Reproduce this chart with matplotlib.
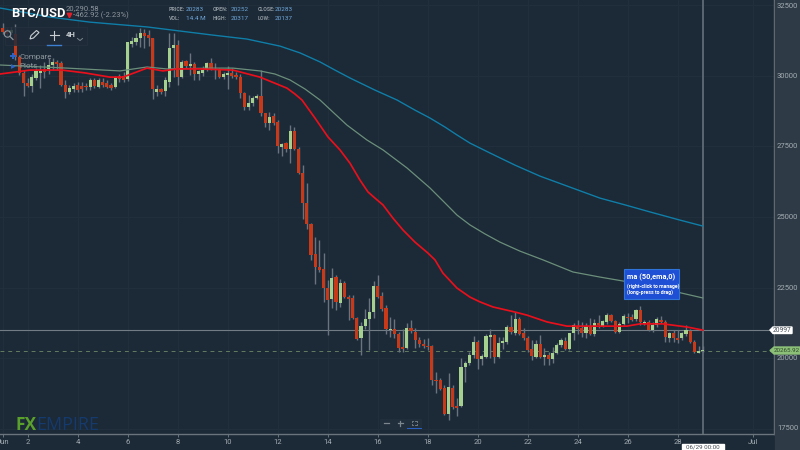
"""BTC/USD 4H candle chart, FX Empire dark style."""
import matplotlib
matplotlib.use("Agg")
import matplotlib.pyplot as plt
from matplotlib.patches import Circle, Polygon, Rectangle
import numpy as np

BG = "#1c2936"
PANEL = "#2e3a45"
GRID = "#222f3c"
AXIS = "#6a747c"
TEXT = "#a3acb3"
UP = "#a5d08e"
DOWN = "#c8391a"
WICK = "#69747e"
EMA_RED = "#e8101c"
MA_GREEN = "#6b8f7b"
MA_BLUE = "#0f7ea8"
VALUE_BLUE = "#6fa8dc"

plt.rcParams["font.family"] = ["Roboto", "DejaVu Sans"]

# 4H candles from Jun 1 00:00
opens = [
    31700, 31600, 31520, 31490, 30670, 30110, 29750, 29650, 29930, 30110,
    30250, 30250, 30390, 30500, 30460, 29680, 29430, 29540, 29680, 29650,
    29650, 29610, 29860, 29610, 29790, 29750, 29680, 29610, 30000, 30000,
    29890, 31130, 31210, 31350, 31520, 31450, 31350, 29430, 29540, 29470,
    29790, 30990, 31100, 29960, 30530, 30350, 30430, 30070, 30110, 30250,
    30460, 30210, 30250, 29960, 30040, 30110, 30040, 29960, 29400, 28900,
    29040, 29220, 29290, 28690, 28330, 28580, 28370, 27480, 27620, 27410,
    28050, 27410, 26560, 25500, 24750, 23690, 23230, 23160, 22480, 22090,
    22870, 21950, 22660, 22160, 22130, 21420, 20710, 21130, 21380, 21630,
    22550, 22200, 21770, 20990, 21030, 20850, 20390, 20350, 21060, 20920,
    20640, 20500, 20430, 20430, 19220, 19220, 18940, 18010, 18940, 18300,
    18300, 19680, 19820, 20110, 20570, 19960, 20040, 20740, 20820, 20040,
    20530, 20570, 21100, 20890, 21380, 20890, 20710, 20320, 20040, 20500,
    20040, 20110, 19960, 20180, 20460, 20600, 20320, 20890, 21100, 21060,
    20890, 21100, 20850, 21240, 21130, 21280, 21520, 21310, 20920, 21210,
    21450, 21450, 21380, 21700, 21210, 21280, 20990, 21170, 21350, 21280,
    20710, 20890, 20710, 20710, 20850, 20960, 20570, 20180, 20250,
]
highs = [
    31880, 31700, 31740, 31840, 30740, 30210, 29930, 30070, 30280, 30390,
    30500, 30640, 30640, 30570, 30530, 29860, 29680, 29750, 29790, 29790,
    29750, 29930, 29930, 29930, 29930, 29860, 29750, 30000, 30070, 30140,
    31210, 31380, 31520, 31700, 31670, 31630, 31350, 29680, 29570, 29960,
    31520, 31520, 31280, 30570, 30570, 30820, 30500, 30210, 30350, 30500,
    30640, 30460, 30280, 30140, 30350, 30280, 30140, 30070, 29430, 29330,
    29290, 29360, 30210, 28690, 28720, 28690, 28440, 27620, 27660, 28260,
    28190, 27480, 26840, 26210, 24790, 24290, 24180, 23720, 22770, 23190,
    22940, 22800, 22730, 22230, 22230, 21450, 21280, 21740, 22130, 22730,
    22940, 22340, 21880, 21450, 21380, 20920, 21030, 21240, 21350, 21060,
    20740, 20670, 20710, 20460, 19500, 19290, 19040, 19470, 19040, 18580,
    20000, 19890, 20210, 20780, 20640, 20140, 20850, 21030, 20850, 20740,
    20740, 21170, 21520, 21630, 21450, 21060, 20780, 20640, 20640, 20820,
    20350, 20210, 20390, 20530, 20710, 20740, 20890, 21240, 21350, 21280,
    21240, 21420, 21380, 21520, 21350, 21600, 21560, 21350, 21280, 21560,
    21600, 21560, 21740, 21840, 21350, 21350, 21280, 21450, 21490, 21350,
    20920, 20990, 20990, 20920, 21170, 21030, 20640, 20430, 20430,
]
lows = [
    31490, 31420, 31450, 30570, 30040, 29290, 29610, 29430, 29860, 29570,
    29930, 30070, 30210, 30210, 29650, 29220, 29360, 29430, 29430, 29430,
    29500, 29500, 29570, 29570, 29610, 29570, 29500, 29570, 29790, 29790,
    29820, 31030, 31100, 31030, 30990, 31060, 29180, 29290, 29360, 29290,
    29610, 29960, 29680, 29930, 30280, 30040, 29860, 29860, 30000, 30180,
    30210, 29890, 29930, 29890, 29540, 29930, 29890, 29220, 28790, 28790,
    28940, 29180, 28580, 28190, 28080, 28260, 27270, 27160, 27300, 26910,
    27380, 26520, 24930, 24570, 23480, 22620, 23050, 21990, 20820, 21770,
    21700, 21810, 22130, 21350, 21380, 20640, 20110, 21030, 20280, 21420,
    22130, 21670, 20850, 20740, 20710, 20210, 20210, 20320, 20890, 20350,
    20390, 20350, 20280, 19040, 18760, 18870, 17980, 17800, 18190, 17940,
    18260, 19150, 19750, 20000, 19610, 19750, 20000, 20000, 19820, 20000,
    20320, 20500, 20850, 20820, 20820, 20640, 20210, 19930, 20000, 20000,
    19750, 19750, 19820, 20140, 20390, 20280, 20280, 20640, 20850, 20740,
    20710, 20820, 20780, 21060, 21100, 21210, 21280, 20890, 20890, 21170,
    21240, 21310, 21310, 21170, 21170, 20960, 20920, 21100, 21240, 20570,
    20570, 20570, 20530, 20640, 20780, 20530, 20180, 20180, 20210,
]
closes = [
    31560, 31490, 31630, 30670, 30110, 29750, 29650, 29960, 30180, 30180,
    30140, 30390, 30500, 30430, 29680, 29430, 29570, 29650, 29500, 29540,
    29610, 29860, 29650, 29860, 29680, 29610, 29570, 29930, 29890, 29860,
    31210, 31240, 31350, 31520, 31420, 31350, 29540, 29540, 29430, 29860,
    30990, 31100, 29960, 30500, 30350, 30430, 30070, 30180, 30210, 30460,
    30250, 30250, 29960, 30070, 30110, 30000, 29960, 29400, 28900, 29040,
    29220, 29290, 28690, 28330, 28550, 28330, 27520, 27590, 27410, 28050,
    27410, 26560, 25500, 24750, 23650, 23230, 23120, 22480, 22060, 22840,
    21990, 22660, 22160, 22090, 21420, 20670, 21130, 21380, 21630, 22550,
    22160, 21740, 21030, 21030, 20850, 20350, 20320, 21060, 20960, 20640,
    20500, 20430, 20390, 19220, 19180, 18900, 18010, 18970, 18260, 18230,
    19680, 19820, 20110, 20570, 19960, 20070, 20780, 20820, 20040, 20530,
    20600, 21100, 20920, 21380, 20850, 20710, 20280, 20070, 20500, 20040,
    20110, 19960, 20180, 20460, 20640, 20320, 20890, 21170, 21030, 20890,
    21130, 20850, 21240, 21170, 21310, 21520, 21310, 20920, 21210, 21490,
    21420, 21350, 21700, 21280, 21280, 20990, 21170, 21380, 21280, 20740,
    20890, 20710, 20640, 20890, 20990, 20570, 20210, 20250, 20280,
]

ema50_days = [0.89, 2.09, 3.37, 4.29, 5.29, 5.81, 6.77, 7.41, 7.97, 8.89, 10.21, 11.29,
              12.37, 12.69, 12.97, 13.49, 14.01, 14.49, 14.89, 15.29, 15.61, 15.89, 16.21,
              16.61, 17.01, 17.49, 18.01, 18.29, 18.61, 19.17, 19.69, 20.09, 20.61, 21.49,
              21.97, 22.77, 23.57, 24.61, 25.97, 26.49, 27.41, 28.37, 29.0]
ema50_vals = [30070, 30210, 30210, 30110, 29960, 29960, 30280, 30180, 30250, 30250, 30210, 29960,
              29570, 29360, 29150, 28510, 27840, 27380, 26910, 26310, 25890, 25670, 25430,
              24960, 24540, 24110, 23720, 23480, 23010, 22480, 22160, 21990, 21810, 21630,
              21520, 21280, 21130, 21130, 21130, 21210, 21210, 21100, 20990]
ma100_days = [0.89, 3.57, 5.69, 6.77, 7.57, 9.41, 10.21, 11.29, 11.89, 12.49, 13.09, 13.69,
              14.21, 14.77, 15.57, 16.21, 17.17, 18.09, 18.69, 19.17, 19.69, 20.29, 20.89,
              21.69, 22.61, 23.81, 24.89, 25.81, 26.89, 27.97, 29.0]
ma100_vals = [30390, 30280, 30180, 30320, 30250, 30280, 30280, 30180, 30070, 29860, 29540, 29150,
              28720, 28260, 27730, 27380, 26740, 26030, 25500, 25070, 24720, 24400, 24110,
              23790, 23480, 23050, 22870, 22730, 22550, 22340, 22130]
ma200_days = [0.89, 1.09, 2.89, 4.49, 6.77, 9.41, 10.77, 12.09, 12.89, 13.69, 14.29, 14.89,
              15.89, 16.77, 17.49, 18.09, 18.69, 19.17, 19.69, 20.49, 21.49, 22.49, 23.69,
              24.89, 25.89, 26.89, 28.09, 29.0]
ma200_vals = [32410, 32380, 32090, 31910, 31740, 31450, 31310, 31060, 30820, 30500, 30210, 29930,
              29500, 29150, 28790, 28510, 28190, 27910, 27620, 27270, 26840, 26450, 26060,
              25670, 25430, 25180, 24890, 24680]

x_ticks = [1, 2, 4, 6, 8, 10, 12, 14, 16, 18, 20, 22, 24, 26, 28, 31]
x_labels = ["Jun", "2", "4", "6", "8", "10", "12", "14", "16", "18", "20", "22", "24", "26", "28", "Jul"]
y_ticks = [17500, 20000, 22500, 25000, 27500, 30000, 32500]

last_price = 20265.92
cross_price = 20997
cross_day = 29.0

fig = plt.figure(figsize=(8, 4.5), dpi=100, facecolor=BG)
ax = fig.add_axes([0, 16 / 450, 774 / 800, 434 / 450], facecolor=BG)
ax.set_xlim(0.892, 31.852)
ax.set_ylim(17305, 32695)

ax.grid(True, color=GRID, linewidth=0.7)
ax.set_axisbelow(True)
ax.set_xticks(x_ticks)
ax.set_xticklabels(x_labels)
ax.set_yticks(y_ticks)
ax.yaxis.tick_right()
ax.tick_params(axis="both", colors=AXIS, labelcolor=TEXT, labelsize=5.5, length=2, width=0.7, pad=1.5)
ax.set_yticklabels([])
for name in ["top", "left"]:
    ax.spines[name].set_visible(False)
for name in ["bottom", "right"]:
    ax.spines[name].set_color(AXIS)
    ax.spines[name].set_linewidth(1)

days = 1 + np.arange(len(opens)) / 6
o = np.array(opens)
c = np.array(closes)
colors = [UP if b >= a else DOWN for a, b in zip(o, c)]

ax.axhline(cross_price, color="#727c84", linewidth=0.8, zorder=1.5)
ax.axhline(last_price, color="#647c60", linewidth=0.7, linestyle=(0, (4, 4)), zorder=1.5)
ax.axvline(cross_day, color="#5a6670", linewidth=1.4, zorder=1.5)

ax.vlines(days, lows, highs, color=WICK, linewidth=1, zorder=2)
ax.bar(days, np.abs(c - o), bottom=np.minimum(o, c), width=0.125, color=colors, linewidth=0, zorder=3)

ax.plot(ma200_days, ma200_vals, color=MA_BLUE, linewidth=1, zorder=4)
ax.plot(ma100_days, ma100_vals, color=MA_GREEN, linewidth=0.9, zorder=4)
ax.plot(ema50_days, ema50_vals, color=EMA_RED, linewidth=1.25, zorder=4)

# right price panel and overlay chrome, in screen pixels
ui = fig.add_axes([0, 0, 1, 1], facecolor="none")
ui.set_xlim(0, 800)
ui.set_ylim(450, 0)
ui.axis("off")
ui.add_patch(Rectangle((775, 0), 25, 450, color=PANEL, zorder=0))
ax.set_zorder(1)
ui.set_zorder(2)
for v in y_ticks:
    py = 358 - (v - 20000) * 0.0282
    ui.text(777, py, str(v), color=TEXT, fontsize=5.5, va="center", ha="left")

# header
ui.text(11, 13, "BTC/USD", color="white", fontsize=9.3, fontweight="bold", va="center")
ui.text(66, 8.5, "20,290.58", color="#8d979f", fontsize=5.5, va="center")
ui.plot([68.5], [15], marker="v", color="#e0202a", markersize=3.2)
ui.text(73, 15.5, "-462.92 (-2.23%)", color="#8d979f", fontsize=5.5, va="center")
header = [(169, 186, 9.5, "PRICE:", "20283"), (213, 231, 9.5, "OPEN:", "20252"), (258, 275, 9.5, "CLOSE:", "20283"),
          (169, 186, 18.5, "VOL:", "14.4 M"), (213, 231, 18.5, "HIGH:", "20317"), (258, 275, 18.5, "LOW:", "20137")]
for lx, vx, ty, label, value in header:
    ui.text(lx, ty, label, color="#8d979f", fontsize=3.8, fontweight="bold", va="center")
    ui.text(vx, ty, value, color=VALUE_BLUE, fontsize=4.6, va="center")

# toolbar
ui.add_patch(Rectangle((5, 27), 82, 17.5, facecolor="#1f2b38", edgecolor="#26333f", linewidth=0.6, alpha=0.82, zorder=5))
ui.add_patch(Circle((7.5, 34), 3.2, fill=False, edgecolor="#8c969e", linewidth=0.8, zorder=6))
ui.plot([10, 13], [36.5, 39.5], color="#8c969e", linewidth=0.9, zorder=6)
ui.add_patch(Polygon([[30, 39], [31, 35.5], [36.5, 30.5], [39, 32.5], [33.5, 38]], closed=True, fill=False,
                     edgecolor="#c8ced2", linewidth=0.8, zorder=6))
ui.plot([47, 61], [45, 45], color="#3d7fd0", linewidth=1, zorder=6)
ui.plot([54, 54], [31, 39.5], color="#c8ced2", linewidth=0.8, zorder=6)
ui.plot([49.5, 58.5], [35.3, 35.3], color="#c8ced2", linewidth=0.8, zorder=6)
ui.text(71, 34.5, "4H", color="#c8ced2", fontsize=5.6, fontweight="bold", ha="center", va="center", zorder=6)
ui.plot([77.5, 80, 82.5], [38.5, 40.5, 38.5], color="#7c868e", linewidth=0.7, zorder=6)

ui.plot([13], [56], marker="P", color="#2a62c8", markersize=4, markeredgewidth=0, zorder=6)
ui.plot([13], [66], marker=">", color="#2a62c8", markersize=3.5, markeredgewidth=0, zorder=6)
ui.text(19, 56.5, "Compare", color="#8d979f", fontsize=5.8, va="center", zorder=6)
ui.text(19, 66.5, "Plots", color="#8d979f", fontsize=5.8, va="center", zorder=6)

# tooltip
ui.add_patch(Rectangle((624, 269), 55, 29.5, facecolor="#1e4fd4", edgecolor="#2f74d8", linewidth=0.8, zorder=6))
ui.text(627, 277, "ma (50,ema,0)", color="white", fontsize=5.3, fontweight="bold", va="center", zorder=7)
ui.text(627, 286, "(right-click to manage)", color="white", fontsize=3.7, fontweight="bold", va="center", zorder=7)
ui.text(627, 292, "(long-press to drag)", color="white", fontsize=3.7, fontweight="bold", va="center", zorder=7)

# price flags
ui.add_patch(Polygon([[770, 330], [773, 327], [792, 327], [792, 333.5], [773, 333.5]], closed=True, color="white", zorder=6))
ui.text(782.5, 330.3, "20997", color="#444c54", fontsize=4.8, ha="center", va="center", zorder=7)
ui.add_patch(Polygon([[770, 350.5], [774, 347], [800, 347], [800, 354], [774, 354]], closed=True, color="#8cbf78", zorder=6))
ui.text(787, 350.7, "20265.92", color="#2c4a28", fontsize=4.5, ha="center", va="center", zorder=7)
ui.add_patch(Rectangle((682, 443.5), 42, 7, color="white", zorder=6))
ui.text(703, 447, "06/29 00:00", color="#444c54", fontsize=4.5, ha="center", va="center", zorder=7)

# logo
ui.text(15.5, 425.5, "FX", color="#5aa02c", fontsize=12.5, fontweight="bold", va="center", family="Open Sans", zorder=6)
ui.text(36.5, 425.5, "EMPIRE", color="#143a6e", fontsize=13, va="center", family="Open Sans", zorder=6)

# zoom buttons
ui.add_patch(Rectangle((380, 419), 41, 9, color="#212e3b", zorder=5))
ui.plot([383.5, 388.5], [423, 423], color="#7c868e", linewidth=0.9, zorder=6)
ui.plot([397.5, 402.5], [423, 423], color="#7c868e", linewidth=0.9, zorder=6)
ui.plot([400, 400], [420.5, 425.5], color="#7c868e", linewidth=0.9, zorder=6)
ui.plot([411.5, 411.5, 413], [422, 420.5, 420.5], color="#7c868e", linewidth=0.6, zorder=6)
ui.plot([415, 416.5, 416.5], [420.5, 420.5, 422], color="#7c868e", linewidth=0.6, zorder=6)
ui.plot([411.5, 411.5, 413], [423.5, 425, 425], color="#7c868e", linewidth=0.6, zorder=6)
ui.plot([415, 416.5, 416.5], [425, 425, 423.5], color="#7c868e", linewidth=0.6, zorder=6)
ui.plot([407, 421], [427.5, 427.5], color="#2a62c8", linewidth=0.7, zorder=6)

plt.savefig("out.png", dpi=100)
plt.close()
